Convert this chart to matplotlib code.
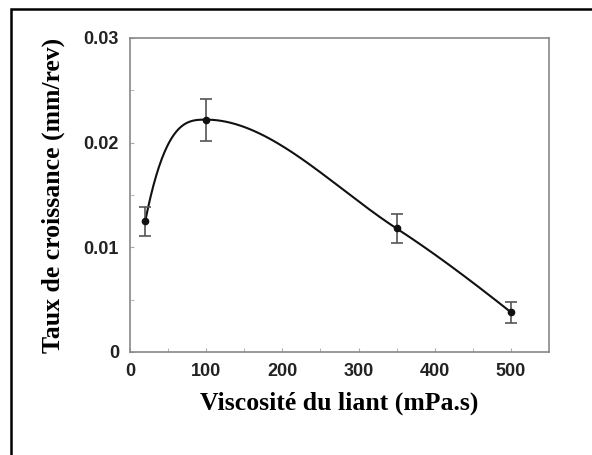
import numpy as np
import matplotlib
matplotlib.use("Agg")
import matplotlib.pyplot as plt
from matplotlib.patches import Rectangle

# values
viscosity = [20, 100, 350, 500]
growth = [0.0125, 0.0222, 0.0118, 0.0038]
growth_err = [0.0014, 0.0020, 0.0014, 0.0010]

xticks = [0, 100, 200, 300, 400, 500]
yticks = [0, 0.01, 0.02, 0.03]
ytick_labels = ["0", "0.01", "0.02", "0.03"]


def smooth_curve(x, y, xs):
    # shape preserving cubic hermite (Fritsch-Carlson) for the trend line,
    # with a steep start like the hand-drawn curve in the scan
    x = np.asarray(x, float)
    y = np.asarray(y, float)
    h = np.diff(x)
    delta = np.diff(y) / h
    n = len(x)
    d = np.zeros(n)
    for k in range(1, n - 1):
        if delta[k - 1] * delta[k] > 0:
            w1 = 2 * h[k] + h[k - 1]
            w2 = h[k] + 2 * h[k - 1]
            d[k] = (w1 + w2) / (w1 / delta[k - 1] + w2 / delta[k])
    d[0] = 3 * delta[0]
    d[-1] = ((2 * h[-1] + h[-2]) * delta[-1] - h[-1] * delta[-2]) / (h[-1] + h[-2])
    if np.sign(d[-1]) != np.sign(delta[-1]):
        d[-1] = 0
    out = np.empty_like(xs)
    for j, xv in enumerate(xs):
        i = int(np.clip(np.searchsorted(x, xv, side="right") - 1, 0, n - 2))
        t = (xv - x[i]) / h[i]
        h00 = 2 * t ** 3 - 3 * t ** 2 + 1
        h10 = t ** 3 - 2 * t ** 2 + t
        h01 = -2 * t ** 3 + 3 * t ** 2
        h11 = t ** 3 - t ** 2
        out[j] = h00 * y[i] + h10 * h[i] * d[i] + h01 * y[i + 1] + h11 * h[i] * d[i + 1]
    return out


fig = plt.figure(figsize=(5.92, 4.55), dpi=100)
# outer frame (only top and left edges visible, as in the scan)
fig.patches.append(Rectangle((11 / 592, -0.1), 1.2, 1 - 9 / 455 + 0.1,
                             transform=fig.transFigure, fill=False,
                             edgecolor="black", linewidth=1.8))

ax = fig.add_axes([130 / 592, 1 - 352 / 455, (549 - 130) / 592, (352 - 38) / 455])

xs = np.linspace(viscosity[0], viscosity[-1], 400)
ax.plot(xs, smooth_curve(viscosity, growth, xs), color="#111111", linewidth=1.5)
ax.errorbar(viscosity, growth, yerr=growth_err, fmt="o", color="#111111",
            ecolor="#555555", markersize=4.5, capsize=4, elinewidth=1.2,
            capthick=1.2)

ax.set_xlim(0, 550)
ax.set_ylim(0, 0.03)
ax.set_xticks(xticks)
ax.set_yticks(yticks)
ax.set_yticklabels(ytick_labels)
ax.set_xticks(np.arange(50, 550, 100), minor=True)
ax.set_yticks([0.005, 0.015, 0.025], minor=True)
ax.tick_params(which="both", direction="in", color="#aaaaaa", length=3)
ax.tick_params(axis="x", pad=8)
ax.tick_params(axis="y", pad=8)
for lab in ax.get_xticklabels() + ax.get_yticklabels():
    lab.set_fontfamily("Liberation Sans")
    lab.set_fontweight("bold")
    lab.set_fontsize(13)
    lab.set_color("#222222")
for s in ax.spines.values():
    s.set_color("#888888")
    s.set_linewidth(1.2)

ax.set_xlabel("Viscosité du liant (mPa.s)", fontfamily="Liberation Serif",
              fontweight="bold", fontsize=18.5, labelpad=8)
ax.set_ylabel("Taux de croissance (mm/rev)", fontfamily="Liberation Serif",
              fontweight="bold", fontsize=18.5, labelpad=13)

fig.savefig("out.png", dpi=100)
